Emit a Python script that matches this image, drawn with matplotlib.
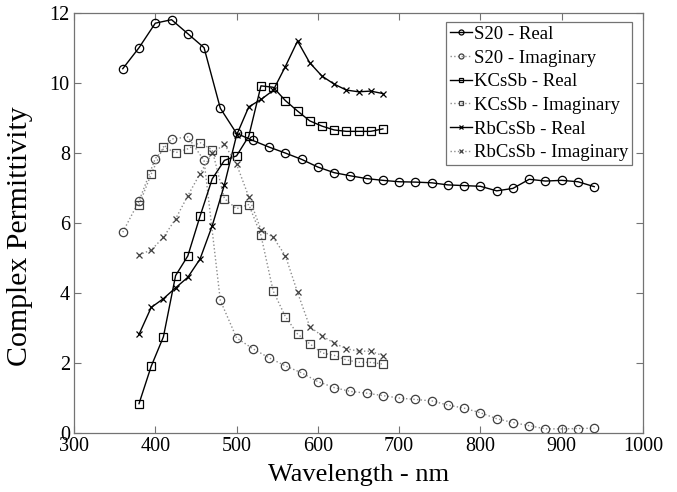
import matplotlib
matplotlib.use("Agg")
import matplotlib.pyplot as plt

# ---- data ----
wl_s20 = [360, 380, 400, 420, 440, 460, 480, 500, 520, 540, 560, 580, 600, 620, 640,
          660, 680, 700, 720, 740, 760, 780, 800, 820, 840, 860, 880, 900, 920, 940]
s20_real = [10.4, 11.0, 11.7, 11.8, 11.4, 11.0, 9.27, 8.55, 8.35, 8.16, 7.99, 7.81, 7.59, 7.43, 7.34,
            7.26, 7.21, 7.17, 7.16, 7.14, 7.08, 7.06, 7.04, 6.91, 6.98, 7.24, 7.19, 7.21, 7.17, 7.03]
s20_imag = [5.73, 6.62, 7.83, 8.39, 8.45, 7.78, 3.78, 2.71, 2.40, 2.14, 1.91, 1.71, 1.46, 1.29, 1.18,
            1.13, 1.06, 0.99, 0.95, 0.91, 0.79, 0.70, 0.57, 0.40, 0.29, 0.20, 0.11, 0.11, 0.12, 0.13]

wl_k = [380, 395, 410, 425, 440, 455, 470, 485, 500, 515, 530, 545, 560, 575, 590,
        605, 620, 635, 650, 665, 680]
kcssb_real = [0.83, 1.90, 2.74, 4.49, 5.05, 6.18, 7.25, 7.78, 7.91, 8.47, 9.91, 9.87, 9.49, 9.19, 8.91,
              8.76, 8.65, 8.61, 8.61, 8.61, 8.68]
kcssb_imag = [6.51, 7.39, 8.17, 8.00, 8.11, 8.29, 8.08, 6.69, 6.40, 6.52, 5.64, 4.05, 3.32, 2.82, 2.54,
              2.28, 2.21, 2.08, 2.01, 2.01, 1.96]

wl_rb = wl_k
rbcssb_real = [2.81, 3.58, 3.83, 4.14, 4.44, 4.96, 5.91, 7.08, 8.50, 9.31, 9.52, 9.78, 10.46, 11.19, 10.57,
               10.19, 9.96, 9.79, 9.74, 9.76, 9.69]
rbcssb_imag = [5.08, 5.22, 5.58, 6.11, 6.77, 7.40, 7.98, 8.24, 7.67, 6.74, 5.80, 5.58, 5.06, 4.01, 3.03,
               2.77, 2.56, 2.40, 2.33, 2.33, 2.20]

labels = ["S20 - Real", "S20 - Imaginary", "KCsSb - Real", "KCsSb - Imaginary",
          "RbCsSb - Real", "RbCsSb - Imaginary"]
x_ticks = [300, 400, 500, 600, 700, 800, 900, 1000]
y_ticks = [0, 2, 4, 6, 8, 10, 12]

plt.rcParams['font.family'] = ['Liberation Serif', 'DejaVu Serif']

fig = plt.figure(figsize=(6.77, 4.92), dpi=100)
ax = fig.add_axes([0.1093, 0.1205, 0.8405, 0.8537])

real_kw = dict(color='black', lw=1.0, ls='-', markerfacecolor='none',
               markeredgecolor='black', markeredgewidth=0.9)
imag_kw = dict(color='0.55', lw=1.0, ls=':', markerfacecolor='none',
               markeredgecolor='0.25', markeredgewidth=0.9)

ax.plot(wl_s20, s20_real, marker='o', ms=6, label=labels[0], **real_kw)
ax.plot(wl_s20, s20_imag, marker='o', ms=6, label=labels[1], **imag_kw)
ax.plot(wl_k, kcssb_real, marker='s', ms=6, label=labels[2], **real_kw)
ax.plot(wl_k, kcssb_imag, marker='s', ms=6, label=labels[3], **imag_kw)
ax.plot(wl_rb, rbcssb_real, marker='x', ms=5, label=labels[4], **real_kw)
ax.plot(wl_rb, rbcssb_imag, marker='x', ms=5, label=labels[5], **imag_kw)

ax.set_xlim(300, 1000)
ax.set_ylim(0, 12)
ax.set_xticks(x_ticks)
ax.set_yticks(y_ticks)
ax.tick_params(direction='in', top=True, right=True, length=5, width=0.8,
               color='0.45', labelsize=14.5, pad=3)
for s in ax.spines.values():
    s.set_color('0.45')
    s.set_linewidth(0.9)

ax.set_xlabel("Wavelength - nm", fontsize=19, labelpad=6)
ax.set_ylabel("Complex Permittivity", fontsize=21.5)
ax.yaxis.set_label_coords(-0.072, 0.467)

leg = ax.legend(loc='upper right', bbox_to_anchor=(0.9807, 0.9779), borderaxespad=0,
                fontsize=13.5, fancybox=False, framealpha=1, edgecolor='0.45',
                handlelength=1.2, handletextpad=0.1, labelspacing=0.35,
                borderpad=0.2, markerscale=0.6)
leg.get_frame().set_linewidth(0.9)

fig.savefig("out.png", dpi=100)
